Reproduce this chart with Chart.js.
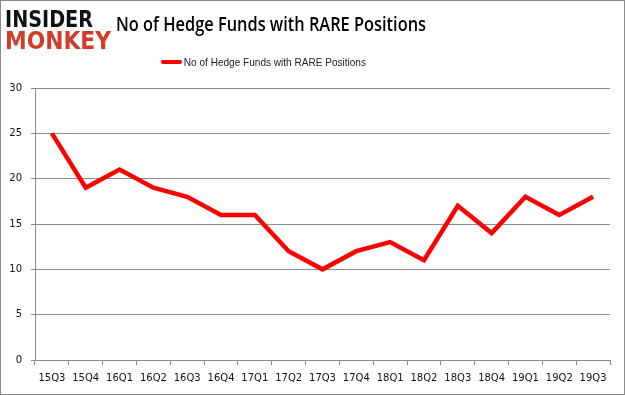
<!DOCTYPE html>
<html lang="en">
<head>
  <meta charset="UTF-8" />
  <title>No of Hedge Funds with RARE Positions</title>
  <script src="https://cdn.jsdelivr.net/npm/chart.js"></script>
  <style>
    html, body { margin: 0; padding: 0; background: #fff; }
    #wrap { position: relative; width: 625px; height: 395px; box-sizing: border-box; border: 1px solid #8c8c8c; overflow: hidden; }
    .fit { position: absolute; white-space: nowrap; transform-origin: 0 0; display: inline-block; }
    #logo1 { left: 4px; top: 7px; font-family: "DejaVu Sans", sans-serif; font-weight: bold; font-size: 23px; line-height: 23px; color: #111; }
    #logo2 { left: 4px; top: 27px; font-family: "DejaVu Sans", sans-serif; font-weight: bold; font-size: 25px; line-height: 25px; color: #d23c2a; }
    #title { left: 115px; top: 9px; font-family: "Open Sans", sans-serif; font-weight: 600; font-size: 20px; color: #000; }
    #legend { left: 160px; top: 55px; font-family: "Liberation Sans", sans-serif; font-size: 11px; color: #222; }
    #legend .sw { display: inline-block; width: 23px; height: 4px; background: #ff0000; border-radius: 2px; margin-right: 2px; vertical-align: 2px; }
    canvas { position: absolute; left: -1px; top: -1px; }
  </style>
</head>
<body>
<div id="wrap">
  <canvas id="mainChart" width="625" height="395"></canvas>
  <div id="logo1" class="fit">INSIDER</div>
  <div id="logo2" class="fit">MONKEY</div>
  <div id="title" class="fit">No of Hedge Funds with RARE Positions</div>
  <div id="legend" class="fit"><span class="sw"></span><span id="legendText"></span></div>
</div>

<script>
  const quarters = ['15Q3', '15Q4', '16Q1', '16Q2', '16Q3', '16Q4', '17Q1', '17Q2', '17Q3',
                    '17Q4', '18Q1', '18Q2', '18Q3', '18Q4', '19Q1', '19Q2', '19Q3'];
  const hedgeFunds = [25, 19, 21, 19, 18, 16, 16, 12, 10, 12, 13, 11, 17, 14, 18, 16, 18];
  const seriesName = 'No of Hedge Funds with RARE Positions';

  document.getElementById('legendText').textContent = seriesName;

  // squeeze the html text blocks to the widths seen in the original picture
  function fitWidth(id, w) {
    const el = document.getElementById(id);
    const cur = el.getBoundingClientRect().width;
    el.style.transform = `scaleX(${w / cur})`;
  }
  fitWidth('logo1', 88);
  fitWidth('logo2', 106);
  fitWidth('title', 310);
  fitWidth('legend', 205);

  const ctx = document.getElementById('mainChart').getContext('2d');
  new Chart(ctx, {
    type: 'line',
    data: {
      labels: quarters,
      datasets: [{
        label: seriesName,
        data: hedgeFunds,
        borderColor: '#ff0000',
        borderWidth: 4.5,
        pointRadius: 0,
        tension: 0,
        fill: false
      }]
    },
    options: {
      responsive: false,
      animation: false,
      layout: { padding: { left: 0, right: 15, top: 88, bottom: 0 } },
      plugins: {
        legend: { display: false },
        tooltip: { enabled: false }
      },
      scales: {
        x: {
          offset: true,
          grid: { offset: true, drawOnChartArea: false, drawTicks: true, tickLength: 5, color: '#8c8c8c' },
          border: { color: '#8c8c8c' },
          ticks: { color: '#111', font: { family: 'DejaVu Sans', size: 10 }, padding: 7, maxRotation: 0, autoSkip: false },
          afterFit: s => { s.height = 35; }
        },
        y: {
          min: 0,
          max: 30,
          ticks: { stepSize: 5, color: '#111', font: { family: 'DejaVu Sans', size: 10 }, padding: 9 },
          grid: { color: '#8c8c8c', tickLength: 4 },
          border: { color: '#8c8c8c' },
          afterFit: s => { s.width = 35; }
        }
      }
    }
  });
</script>
</body>
</html>
